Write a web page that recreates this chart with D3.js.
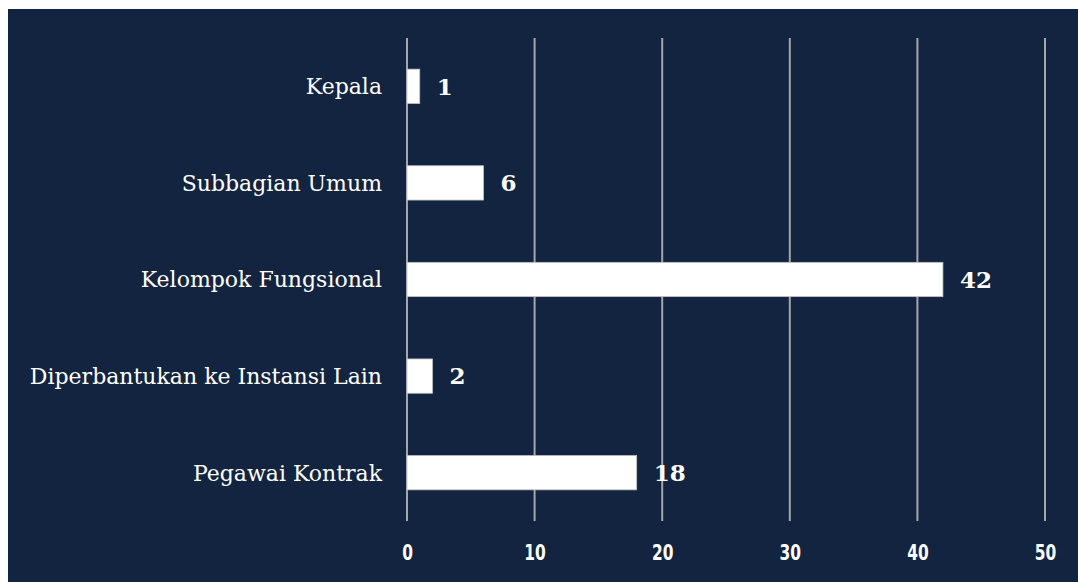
<html>
<script src='https://d3js.org/d3.v7.min.js'></script>
<style>
body { margin: 0; background: white; }
</style>
<body>
<svg width=1078 height=582></svg>
<script>
const categories = ["Kepala", "Subbagian Umum", "Kelompok Fungsional", "Diperbantukan ke Instansi Lain", "Pegawai Kontrak"];
const values = [1, 6, 42, 2, 18];
const ticks = [0, 10, 20, 30, 40, 50];

const data = categories.map((c, i) => ({name: c, value: values[i]}));
const svg = d3.select("svg");

svg.append("rect")
    .attr("x", 8).attr("y", 9)
    .attr("width", 1070).attr("height", 573)
    .attr("fill", "#12243f");

var x = d3.scaleLinear().domain([0, 50]).range([407, 1045]);
var y = d3.scaleBand().domain(categories).range([38, 521])
    .paddingInner(0.645).paddingOuter(0.3225);

// gridlines
svg.append("g")
    .selectAll("line")
    .data(ticks)
    .enter()
    .append("line")
    .attr("x1", d => x(d)).attr("x2", d => x(d))
    .attr("y1", 38).attr("y2", 521)
    .attr("stroke", "#a6a6a6")
    .attr("stroke-width", 2);

// tick labels (narrow face, squeezed horizontally)
const xAxis = svg.append("g")
    .attr("transform", "translate(0,521)")
    .call(d3.axisBottom(x).tickValues(ticks).tickSize(0).tickPadding(23));
xAxis.select(".domain").remove();
xAxis.selectAll("text")
    .attr("fill", "white")
    .attr("transform", "scale(0.78,1)")
    .style("font-family", "'DejaVu Sans Condensed', 'DejaVu Sans'")
    .style("font-weight", "bold")
    .style("font-size", "22px");

// bars
svg.append("g")
    .selectAll("rect")
    .data(data)
    .enter()
    .append("rect")
    .attr("x", x(0))
    .attr("y", d => y(d.name))
    .attr("width", d => x(d.value) - x(0))
    .attr("height", y.bandwidth())
    .attr("fill", "white")
    .attr("stroke", "#bfbfbf")
    .attr("stroke-width", 0.8);

// value labels
svg.append("g")
    .selectAll("text")
    .data(data)
    .enter()
    .append("text")
    .attr("x", d => x(d.value) + 17)
    .attr("y", d => y(d.name) + y.bandwidth() / 2)
    .attr("dy", "0.36em")
    .attr("fill", "white")
    .style("font-family", "'DejaVu Serif'")
    .style("font-weight", "bold")
    .style("font-size", "23px")
    .text(d => d.value);

// category labels
svg.append("g")
    .selectAll("text")
    .data(data)
    .enter()
    .append("text")
    .attr("x", 382)
    .attr("y", d => y(d.name) + y.bandwidth() / 2)
    .attr("dy", "0.36em")
    .attr("text-anchor", "end")
    .attr("fill", "white")
    .style("font-family", "'DejaVu Serif'")
    .style("font-size", "22px")
    .text(d => d.name);
</script>
</body>
</html>
